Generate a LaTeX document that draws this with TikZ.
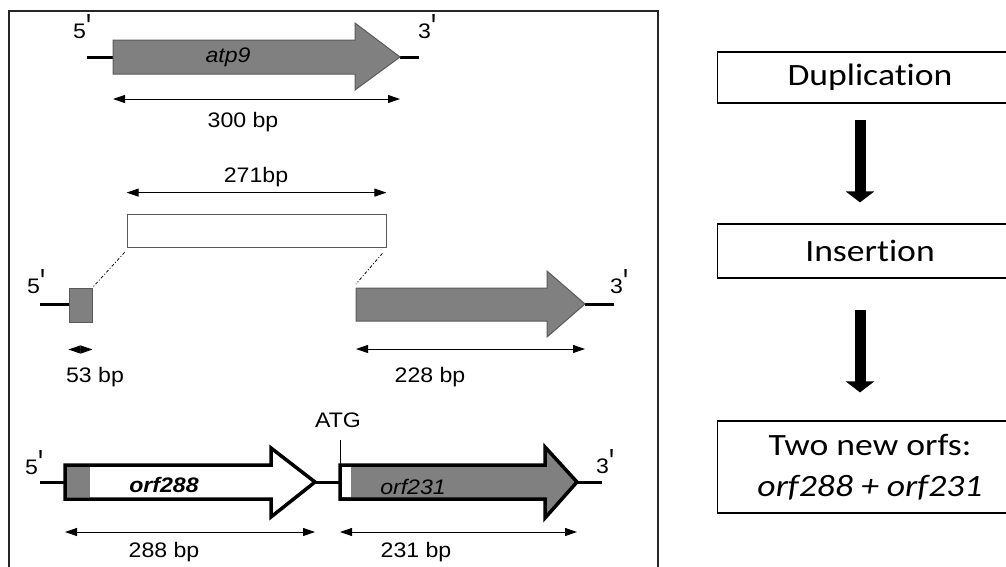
\documentclass[tikz,border=0pt]{standalone}
\usepackage{fontspec}
\newfontfamily\lblfont[FakeStretch=1.1]{Liberation Sans}
\newfontfamily\stepfont[FakeStretch=1.15,Ligatures=NoCommon]{Carlito}
\usetikzlibrary{arrows.meta,positioning}
\definecolor{exongray}{HTML}{808080}
\definecolor{exonedge}{HTML}{5A5A5A}
\newcommand{\pr}{\raisebox{-0.1em}{\scalebox{1.15}[1.8]{\textquotesingle}}}
\tikzset{
    lbl/.style={font=\lblfont\fontsize{21}{24}\selectfont,inner sep=0pt,anchor=base},
    endlbl/.style={lbl,anchor=base west},
    strand/.style={line width=3pt},
    exon/.style={fill=exongray,draw=exonedge,line width=1pt},
    orf/.style={draw=black,line width=3.5pt,miter limit=10},
    dimline/.style={{Triangle[length=12pt,width=8pt]}-{Triangle[length=12pt,width=8pt]},line width=0.9pt},
    linker/.style={dash pattern=on 3pt off 2pt on 1pt off 2pt,line width=0.8pt},
    stepbox/.style={draw,line width=1.2pt,minimum width=305pt,font=\stepfont\fontsize{31}{41}\selectfont,align=center},
    bigarrow/.style={line width=11pt,-{Triangle[length=11pt,width=28pt]}},
}

\begin{document}
\begin{tikzpicture}[x=1pt,y=-1pt]
    \useasboundingbox (0,0) rectangle (1006,566);
    \draw[line width=1.5pt,draw=black!85] (9,11) rectangle (658,600);

    % atp9
    \coordinate (a5) at (113,57);
    \coordinate (a3) at (400,57);
    \draw[strand] (87,57) -- (a5);
    \draw[strand] (a3) -- (419,57);
    \draw[exon] (113,40) -- (355,40) -- (355,23) -- (a3) -- (355,90) -- (355,74) -- (113,74) -- cycle;
    \node[endlbl] (a5l) at (73,38) {5\pr};
    \node[endlbl] (a3l) at (418,38) {3\pr};
    \node[lbl] (atp) at (228,62) {\textit{atp9}};
    \draw[dimline] ([yshift=-42pt]a5) -- ([yshift=-42pt]a3);
    \node[lbl] (len300) at (243,127) {300 bp};

    % insertion
    \node[draw=exonedge,line width=0.8pt,minimum width=259pt,minimum height=33pt,inner sep=0pt] (insert) at (256.5,230.5) {};
    \draw[dimline] ([yshift=21pt]insert.north west) -- ([yshift=21pt]insert.north east);
    \node[lbl] (len271) at (256,182) {271bp};
    \coordinate (b5) at (356,304);
    \coordinate (b3) at (585,304);
    \draw[strand] (40,304) -- (69,304);
    \draw[strand] (b3) -- (614,304);
    \node[exon,minimum width=23pt,minimum height=34pt,inner sep=0pt] (ex1) at (80.5,305) {};
    \draw[exon] (356,288) -- (547,288) -- (547,271) -- (b3) -- (547,337) -- (547,321) -- (356,321) -- cycle;
    \draw[linker] ([shift={(-2pt,-5pt)}]insert.south west) -- (ex1.north east);
    \draw[linker] ([shift={(-4pt,-6pt)}]insert.south east) -- ([yshift=20pt]b5);
    \node[endlbl] (b5l) at (27,293) {5\pr};
    \node[endlbl] (b3l) at (610,293) {3\pr};
    \draw[dimline] ([yshift=-27pt]ex1.south west) -- ([yshift=-27pt]ex1.south east);
    \node[lbl] (len53) at (95,382) {53 bp};
    \draw[dimline] ([yshift=-45pt]b5) -- ([yshift=-45pt]b3);
    \node[lbl] (len228) at (430,382) {228 bp};

    % two orfs
    \coordinate (o5) at (65,482);
    \coordinate (o3) at (315,482);
    \coordinate (c5) at (340,482);
    \coordinate (c3) at (577,482);
    \draw[strand] (40,482) -- (o5);
    \draw[strand] (o3) -- (c5);
    \draw[strand] (c3) -- (602,482);
    \draw[orf,fill=white] (65,465) -- (271,465) -- (271,448) -- (o3) -- (271,517) -- (271,499) -- (65,499) -- cycle;
    \fill[exongray] (66.75,466.75) rectangle (90,497.25);
    \draw[orf,fill=exongray] (340,465) -- (545,465) -- (545,447) -- (c3) -- (545,518) -- (545,499) -- (340,499) -- cycle;
    \fill[white] (341.75,466.75) rectangle (351,497.25);
    \node[lbl] (orfa) at (164,492) {\textbf{\textit{orf288}}};
    \node[lbl] (orfb) at (413,494) {\textit{orf231}};
    \node[endlbl] (c5l) at (25,474) {5\pr};
    \node[endlbl] (c3l) at (596,473) {3\pr};
    \node[lbl] (atg) at (338,427) {ATG};
    \draw[line width=0.8pt] ([yshift=-13pt]atg.base -| c5) -- ([yshift=17pt]c5);
    \draw[dimline] ([yshift=-50pt]o5) -- ([yshift=-50pt]o3);
    \node[lbl] (len288) at (164,557) {288 bp};
    \draw[dimline] ([yshift=-50pt]c5) -- ([yshift=-50pt]c3);
    \node[lbl] (len231) at (416,557) {231 bp};

    % steps
    \node[stepbox,minimum height=51pt] (dup) at (870,77.5) {Duplication};
    \node[stepbox,minimum height=54pt] (ins) at (870,251) {Insertion};
    \node[stepbox,minimum height=92pt] (orfs) at (870,467) {Two new orfs:\\\textit{orf288 + orf231}};
    \draw[bigarrow] ([xshift=-10pt,yshift=-16pt]dup.south) -- ([xshift=-10pt,yshift=21pt]ins.north);
    \draw[bigarrow] ([xshift=-10pt,yshift=-31pt]ins.south) -- ([xshift=-10pt,yshift=28pt]orfs.north);
\end{tikzpicture}
\end{document}
